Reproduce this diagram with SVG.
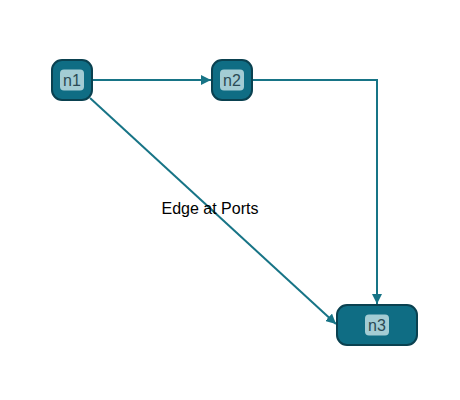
<svg xmlns="http://www.w3.org/2000/svg" width="460" height="400" viewBox="0 0 460 400">
<style>
.edge{fill:none;stroke:#177486;stroke-width:2}
.node{fill:#0f6d84;stroke:#0a4150;stroke-width:2}
.lblbg{fill:#a3ccd4}
.lbl{font-family:"Liberation Sans",Arial,sans-serif;font-size:16px;fill:#2a4a55;text-anchor:middle;dominant-baseline:central}
.elbl{font-family:"Liberation Sans",Arial,sans-serif;font-size:16px;fill:#000;text-anchor:middle}
</style>
<defs>
<marker id="arr" viewBox="0 0 10 10" refX="10" refY="5" markerWidth="10" markerHeight="10" markerUnits="userSpaceOnUse" orient="auto">
<path d="M0,0 L10,5 L0,10 z" fill="#177486"/>
</marker>
</defs>
<rect width="460" height="400" fill="#fff"/>
<g id="edges">
<path class="edge" d="M92,80 H211" marker-end="url(#arr)"/>
<path class="edge" d="M252,80 H377 V304" marker-end="url(#arr)"/>
<path class="edge" d="M90,98 L336,324" marker-end="url(#arr)"/>
<text class="elbl" x="210" y="214">Edge at Ports</text>
</g>
<g id="n1">
<rect class="node" x="52" y="60" width="40" height="40" rx="10"/>
<rect class="lblbg" x="60" y="69.5" width="24" height="21" rx="4"/>
<text class="lbl" x="72" y="80">n1</text>
</g>
<g id="n2">
<rect class="node" x="212" y="60" width="40" height="40" rx="10"/>
<rect class="lblbg" x="220" y="69.5" width="24" height="21" rx="4"/>
<text class="lbl" x="232" y="80">n2</text>
</g>
<g id="n3">
<rect class="node" x="337" y="305" width="80" height="40" rx="10"/>
<rect class="lblbg" x="365" y="314.5" width="24" height="21" rx="4"/>
<text class="lbl" x="377" y="325">n3</text>
</g>
</svg>
